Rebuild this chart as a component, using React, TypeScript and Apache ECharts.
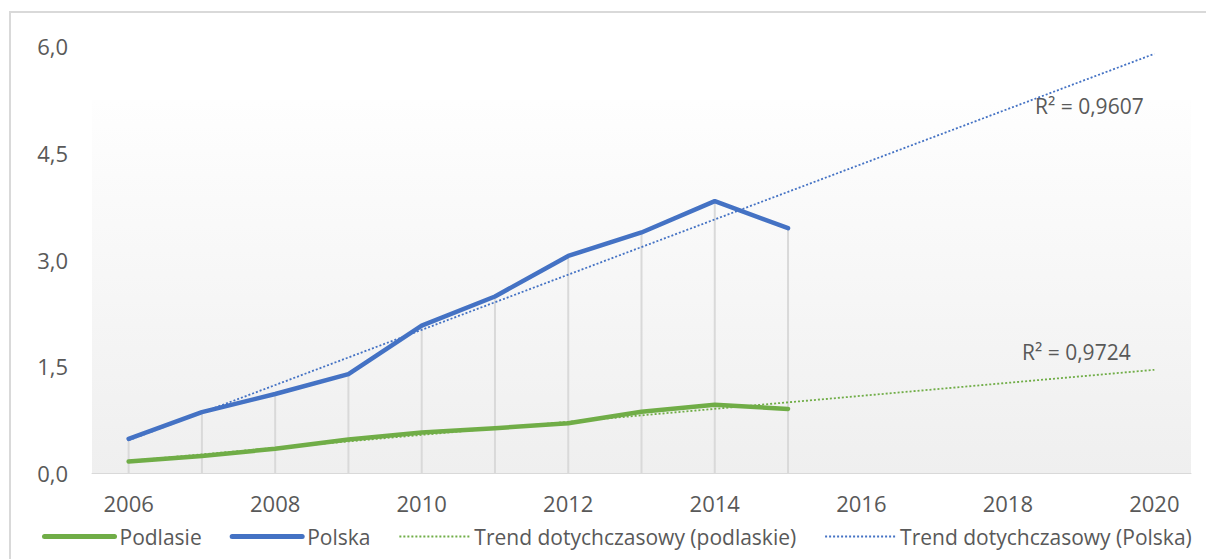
import React, { useEffect, useRef } from "react";
import * as echarts from "echarts";

const years = ["2006","2007","2008","2009","2010","2011","2012","2013","2014","2015","2016","2017","2018","2019","2020"];
const podlasie = [0.16, 0.24, 0.34, 0.47, 0.57, 0.63, 0.70, 0.86, 0.96, 0.90];
const polska = [0.48, 0.855, 1.11, 1.39, 2.07, 2.48, 3.05, 3.38, 3.82, 3.44];
// trend line endpoints (2006 and 2020)
const trendPodlaskie = [0.17, null, null, null, null, null, null, null, null, null, null, null, null, null, 1.45];
const trendPolska = [0.46, null, null, null, null, null, null, null, null, null, null, null, null, null, 5.89];
const r2Polska = "R² = 0,9607";
const r2Podlaskie = "R² = 0,9724";

const FONT = "'Open Sans', 'Noto Sans', sans-serif";
const TXT = "#595959";

export default function App() {
  const ref = useRef<HTMLDivElement>(null);
  useEffect(() => {
    if (!ref.current) return;
    const chart = echarts.init(ref.current, null, { renderer: "svg" });
    chart.setOption({
      animation: false,
      backgroundColor: "#ffffff",
      textStyle: { fontFamily: FONT },
      graphic: [
        {
          type: "rect",
          z: -10,
          silent: true,
          shape: { x: 10, y: 12, width: 1210, height: 570 },
          style: { fill: "#ffffff", stroke: "#d9d9d9", lineWidth: 2 },
        },
        {
          type: "rect",
          z: -9,
          silent: true,
          shape: { x: 92, y: 100, width: 1099, height: 373 },
          style: {
            fill: new echarts.graphic.LinearGradient(0, 0, 0, 1, [
              { offset: 0, color: "#fefefe" },
              { offset: 1, color: "#efefef" },
            ]),
          },
        },
        {
          type: "text",
          x: 1035,
          y: 106,
          style: { text: r2Polska, font: `21px ${FONT}`, fill: TXT, textVerticalAlign: "middle" },
        },
        {
          type: "text",
          x: 1022,
          y: 352,
          style: { text: r2Podlaskie, font: `21px ${FONT}`, fill: TXT, textVerticalAlign: "middle" },
        },
      ],
      grid: { left: 92, right: 15, top: 46, bottom: 86, containLabel: false },
      legend: {
        data: [
          { name: "Podlasie", lineStyle: { width: 5, cap: "round" } },
          { name: "Polska", lineStyle: { width: 5, cap: "round" } },
          { name: "Trend dotychczasowy (podlaskie)", lineStyle: { width: 1.8 } },
          { name: "Trend dotychczasowy (Polska)", lineStyle: { width: 1.8 } },
        ],
        left: 37,
        top: 521,
        itemWidth: 70,
        itemHeight: 24,
        itemGap: 28,
        itemStyle: { opacity: 0 },
        textStyle: { color: TXT, fontSize: 21, fontFamily: FONT },
      },
      xAxis: {
        type: "category",
        data: years,
        boundaryGap: true,
        axisLine: { lineStyle: { color: "#d9d9d9", width: 1 } },
        axisTick: { show: false },
        axisLabel: { interval: 1, color: TXT, fontSize: 22, fontFamily: FONT, margin: 19 },
        splitLine: { show: false },
      },
      yAxis: {
        type: "value",
        min: 0,
        max: 6,
        interval: 1.5,
        axisLine: { show: false },
        axisTick: { show: false },
        splitLine: { show: false },
        axisLabel: {
          color: TXT,
          fontSize: 22,
          fontFamily: FONT,
          margin: 24,
          formatter: (v: number) => v.toFixed(1).replace(".", ","),
        },
      },
      series: [
        {
          name: "dropLines",
          type: "bar",
          data: polska,
          barWidth: 2,
          z: 1,
          silent: true,
          itemStyle: { color: "#d9d9d9" },
        },
        {
          name: "Trend dotychczasowy (podlaskie)",
          type: "line",
          data: trendPodlaskie,
          connectNulls: true,
          symbol: "none",
          z: 2,
          lineStyle: { color: "#70ad47", width: 1.8, type: [2, 2] },
          itemStyle: { color: "#70ad47" },
        },
        {
          name: "Trend dotychczasowy (Polska)",
          type: "line",
          data: trendPolska,
          connectNulls: true,
          symbol: "none",
          z: 2,
          lineStyle: { color: "#4472c4", width: 1.8, type: [2, 2] },
          itemStyle: { color: "#4472c4" },
        },
        {
          name: "Podlasie",
          type: "line",
          data: podlasie,
          symbol: "none",
          z: 3,
          lineStyle: { color: "#70ad47", width: 4.5, cap: "round", join: "round" },
          itemStyle: { color: "#70ad47" },
        },
        {
          name: "Polska",
          type: "line",
          data: polska,
          symbol: "none",
          z: 3,
          lineStyle: { color: "#4472c4", width: 4.5, cap: "round", join: "round" },
          itemStyle: { color: "#4472c4" },
        },
      ],
    });
    return () => chart.dispose();
  }, []);
  return <div ref={ref} style={{ position: "fixed", left: 0, top: 0, width: 1206, height: 559 }} />;
}
